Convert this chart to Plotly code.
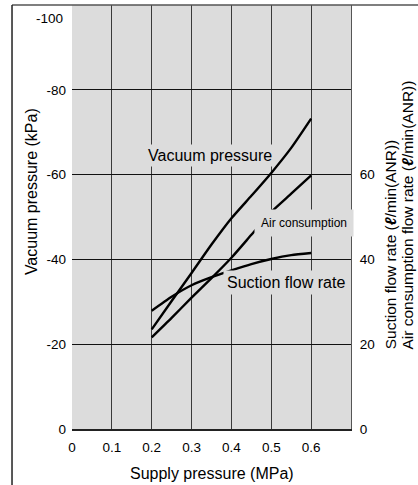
import plotly.graph_objects as go

# ---- data ----
supply = [0.2, 0.25, 0.3, 0.35, 0.4, 0.45, 0.5, 0.55, 0.6]
vacuum_kpa = [-23.5, -30.2, -36.8, -43.5, -49.7, -55.0, -60.4, -66.3, -73.2]
air_consumption = [21.6, 26.2, 31.0, 35.6, 40.4, 45.8, 51.2, 55.5, 59.8]
suction_flow = [27.9, 31.2, 33.9, 35.8, 37.4, 38.9, 40.1, 41.0, 41.5]

x_ticks = [0, 0.1, 0.2, 0.3, 0.4, 0.5, 0.6]
x_tick_text = ["0", "0.1", "0.2", "0.3", "0.4", "0.5", "0.6"]
y_ticks = [0, -20, -40, -60, -80]
y_tick_text = ["0", "-20", "-40", "-60", "-80"]
y2_ticks = [0, 20, 40, 60]
y2_tick_text = ["0", "20", "40", "60"]

FONT = "Liberation Sans, Arial, sans-serif"
BG = "#dcdcdc"

fig = go.Figure()
line_style = dict(color="black", width=2.4, shape="spline", smoothing=0.6)
fig.add_trace(go.Scatter(x=supply, y=vacuum_kpa, mode="lines", line=line_style,
                         yaxis="y", showlegend=False, hoverinfo="skip"))
fig.add_trace(go.Scatter(x=supply, y=air_consumption, mode="lines", line=line_style,
                         yaxis="y2", showlegend=False, hoverinfo="skip"))
fig.add_trace(go.Scatter(x=supply, y=suction_flow, mode="lines", line=line_style,
                         yaxis="y2", showlegend=False, hoverinfo="skip"))

ann = []
# in-plot labels (with background boxes covering the grid)
ann.append(dict(x=0.346, y=-64.6, xref="x", yref="y", text="Vacuum pressure",
                showarrow=False, bgcolor=BG, borderpad=2,
                xanchor="center", yanchor="middle",
                font=dict(family=FONT, size=16, color="black")))
ann.append(dict(x=0.581, y=-48.5, xref="x", yref="y", text="Air consumption",
                showarrow=False, bgcolor=BG, borderpad=6,
                xanchor="center", yanchor="middle",
                font=dict(family=FONT, size=12, color="black")))
ann.append(dict(x=0.538, y=-34.6, xref="x", yref="y", text="Suction flow rate",
                showarrow=False, bgcolor=BG, borderpad=3,
                xanchor="center", yanchor="middle",
                font=dict(family=FONT, size=16, color="black")))
# -100 tick label (shifted inside the frame)
ann.append(dict(x=-0.025, y=-100, xref="paper", yref="y", text="-100",
                showarrow=False, xanchor="right", yanchor="middle", yshift=-13,
                font=dict(family=FONT, size=13.5, color="black")))
# axis titles
ann.append(dict(x=-0.147, y=0.561, xref="paper", yref="paper",
                xanchor="center", yanchor="middle",
                text="Vacuum pressure (kPa)", textangle=-90, showarrow=False,
                font=dict(family=FONT, size=16, color="black")))
ann.append(dict(x=1.143, y=0.183, xref="paper", yref="paper",
                xanchor="center", yanchor="bottom",
                text="Suction flow rate (<b><i>ℓ</i></b>/min(ANR))", textangle=-90,
                showarrow=False, font=dict(family=FONT, size=15.5, color="black")))
ann.append(dict(x=1.203, y=0.183, xref="paper", yref="paper",
                xanchor="center", yanchor="bottom",
                text="Air consumption flow rate (<b><i>ℓ</i></b>/min(ANR))", textangle=-90,
                showarrow=False, font=dict(family=FONT, size=15.5, color="black")))
ann.append(dict(x=0.5, y=-0.1046, xref="paper", yref="paper",
                xanchor="center", yanchor="middle",
                text="Supply pressure (MPa)", showarrow=False,
                font=dict(family=FONT, size=16, color="black")))

shapes = [
    # outer frame (top and left edges)
    dict(type="line", xref="paper", yref="paper", x0=-0.215, x1=1.3, y0=1.0, y1=1.0,
         line=dict(color="#555555", width=1.5)),
    dict(type="line", xref="paper", yref="paper", x0=-0.215, x1=-0.215, y0=1.0, y1=-0.2,
         line=dict(color="#222222", width=1.5)),
]

fig.update_layout(
    width=418, height=485,
    margin=dict(l=72, r=67, t=5, b=56),
    paper_bgcolor="white", plot_bgcolor=BG,
    font=dict(family=FONT, size=13.5, color="black"),
    xaxis=dict(range=[0, 0.7], tickvals=x_ticks, ticktext=x_tick_text,
               showgrid=True, gridcolor="#3a3a3a", gridwidth=1.3,
               zeroline=False, showline=True, linecolor="#222222", linewidth=1.5,
               ticks="", ticklabelstandoff=5, tickfont=dict(size=13.5)),
    yaxis=dict(range=[0, -100], tickvals=y_ticks, ticktext=y_tick_text,
               showgrid=True, gridcolor="#111111", gridwidth=1.3,
               zeroline=False, showline=False,
               ticks="", ticklabelstandoff=5, tickfont=dict(size=13.5)),
    yaxis2=dict(range=[0, 100], overlaying="y", side="right",
                tickvals=y2_ticks, ticktext=y2_tick_text,
                showgrid=False, zeroline=False, showline=True,
                linecolor="#555555", linewidth=1.3,
                ticks="", ticklabelstandoff=5, tickfont=dict(size=13.5)),
    annotations=ann, shapes=shapes,
)

fig.write_html("out.html", config={"displayModeBar": False},
               post_script="document.body.style.margin='0';document.body.style.overflow='hidden';")
